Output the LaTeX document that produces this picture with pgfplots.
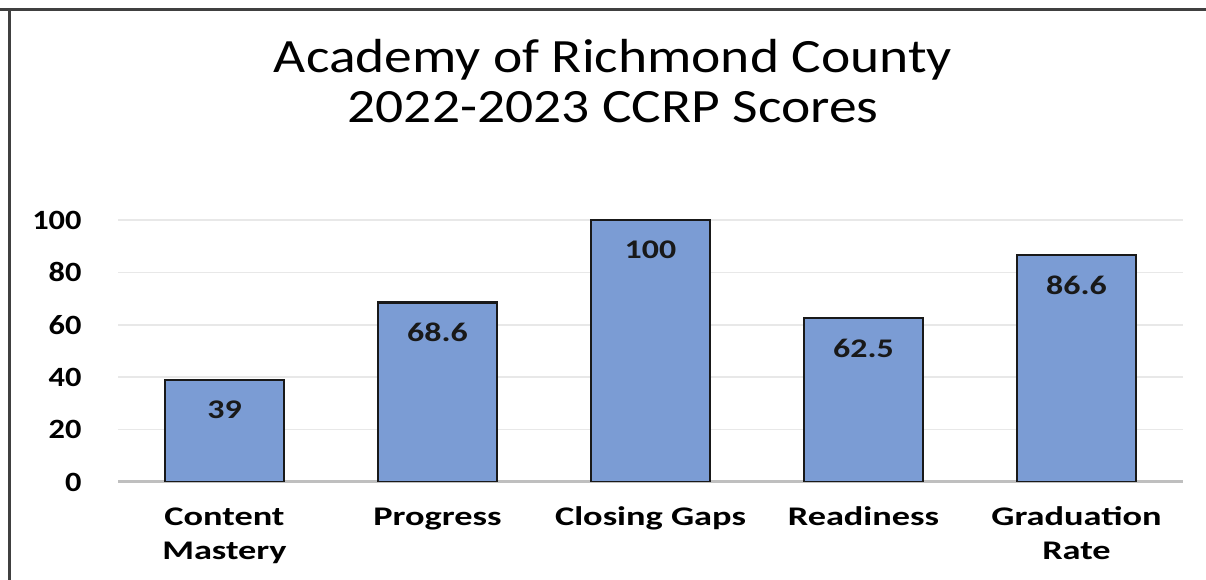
\documentclass[border=0pt]{standalone}
\usepackage{fontspec}
\setmainfont{Carlito}[FakeStretch=1.16]
\newfontfamily\xlabfont{Carlito}[FakeStretch=1.35]
\newfontfamily\barfont{Carlito}[FakeStretch=1.26]
\usepackage{pgfplots}
\pgfplotsset{compat=1.18}
\definecolor{barblue}{HTML}{7B9CD4}
\begin{document}
\begin{tikzpicture}[x=1bp,y=1bp]
\useasboundingbox (0,0) rectangle (1206,580);
\draw[line width=3bp, color=black!75] (0,570) -- (1206,570);
\draw[line width=3bp, color=black!75] (9,571.5) -- (9,0);
\node[anchor=base, inner sep=0pt, font=\fontsize{48}{52}\selectfont] at (613,507.5) {Academy of Richmond County};
\node[anchor=base, inner sep=0pt, font=\fontsize{48}{52}\selectfont] at (613,457.5) {2022-2023 CCRP Scores};
\begin{axis}[
  at={(118bp,98bp)}, anchor=south west,
  scale only axis, width=1065bp, height=262bp,
  xmin=-0.5, xmax=4.5, ymin=0, ymax=100,
  ytick={0,20,...,100},
  xtick={0,1,2,3,4},
  xticklabels={{\strut Content\\Mastery},\strut Progress,{\strut Closing Gaps},\strut Readiness,{\strut Graduation\\Rate}},
  /pgf/number format/assume math mode=true,
  major tick length=0pt,
  axis line style={draw=none},
  ymajorgrids,
  grid style={color=black!9, line width=1.5bp},
  extra y ticks={0},
  extra y tick labels={},
  extra y tick style={grid style={color=black!25, line width=3bp}},
  yticklabel style={font=\fontsize{28}{30}\selectfont\bfseries, xshift=-33bp},
  xticklabel style={font=\xlabfont\fontsize{27}{34}\selectfont\bfseries, align=center, yshift=-16bp},
  ybar, bar width=119bp,
  nodes near coords,
  every node near coord/.append style={anchor=north, yshift=-16bp, font=\barfont\fontsize{27}{30}\selectfont\bfseries, text=black!90},
]
\addplot[fill=barblue, draw=black!90, line width=2.5bp] coordinates {(0,39) (1,68.6) (2,100) (3,62.5) (4,86.6)};
\end{axis}
\end{tikzpicture}
\end{document}
